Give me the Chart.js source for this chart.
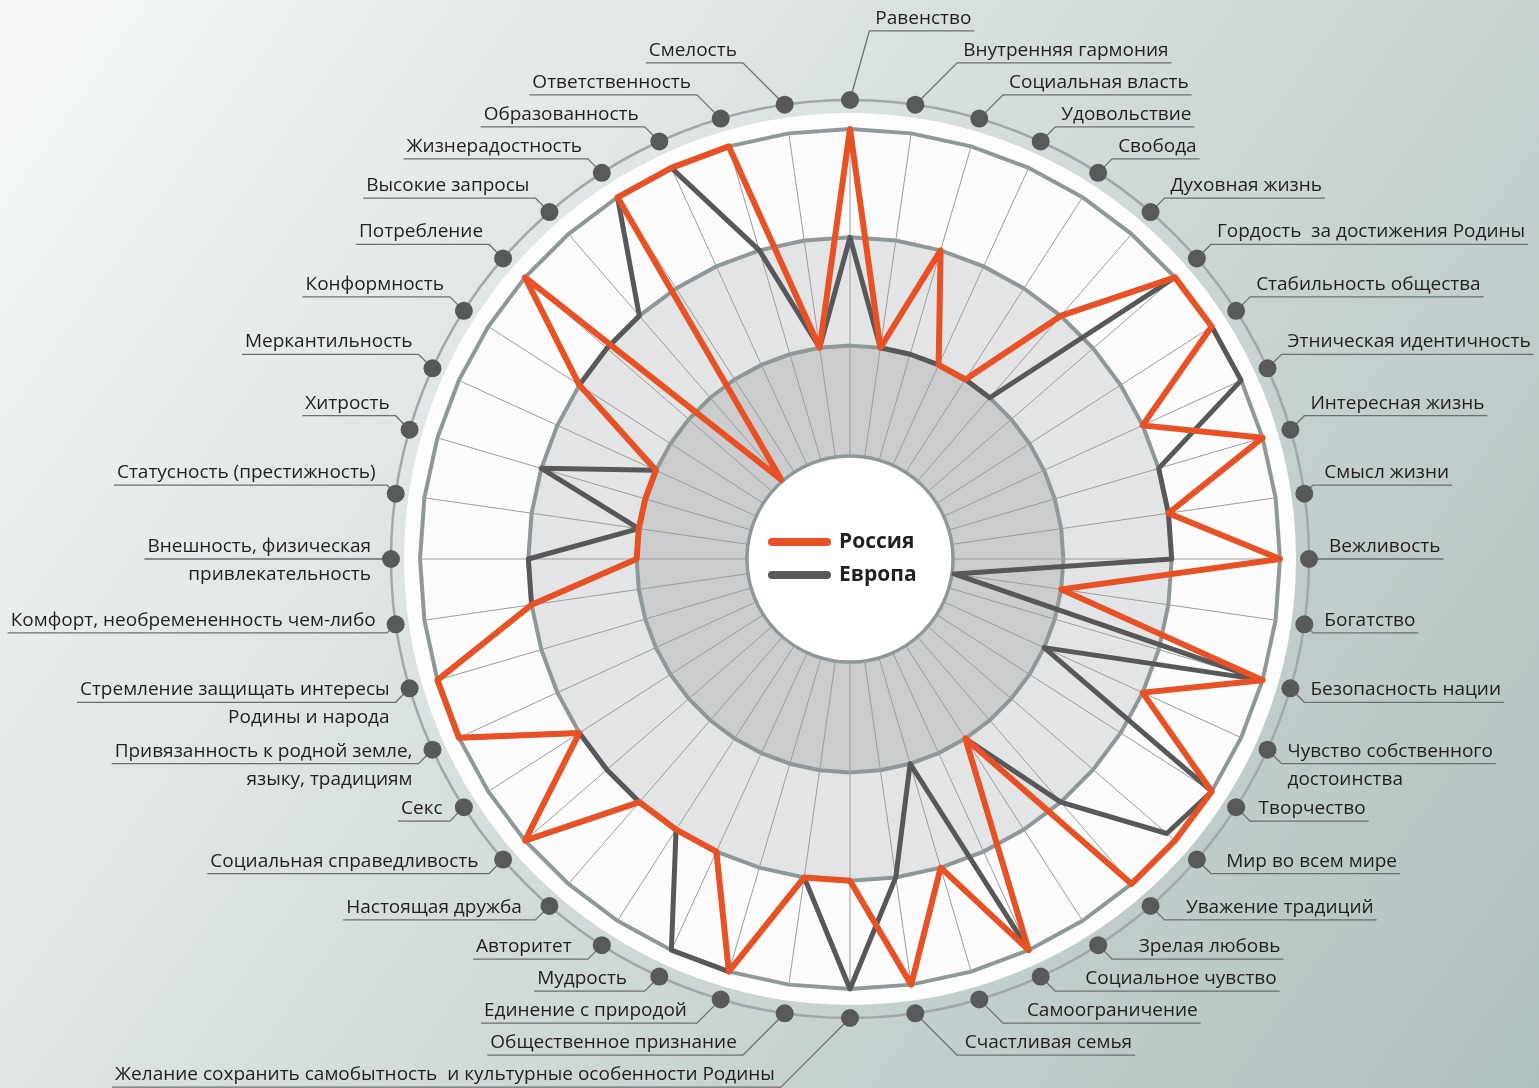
<!DOCTYPE html>
<html><head><meta charset="utf-8">
<script src="https://cdn.jsdelivr.net/npm/chart.js@4/dist/chart.umd.min.js"></script>
<style>html,body{margin:0;padding:0;overflow:hidden;background:#fff}canvas{display:block}</style>
</head><body>
<canvas id="c" width="1539" height="1088"></canvas>
<script>
// ---------- DATA ----------
const categories = [
  "Равенство", "Внутренняя гармония", "Социальная власть", "Удовольствие", "Свобода",
  "Духовная жизнь", "Гордость  за достижения Родины", "Стабильность общества",
  "Этническая идентичность", "Интересная жизнь", "Смысл жизни", "Вежливость", "Богатство",
  "Безопасность нации", ["Чувство собственного", "достоинства"], "Творчество",
  "Мир во всем мире", "Уважение традиций", "Зрелая любовь", "Социальное чувство",
  "Самоограничение", "Счастливая семья",
  "Желание сохранить самобытность  и культурные особенности Родины",
  "Общественное признание", "Единение с природой", "Мудрость", "Авторитет",
  "Настоящая дружба", "Социальная справедливость", "Секс",
  ["Привязанность к родной земле,", "языку, традициям"],
  ["Стремление защищать интересы", "Родины и народа"],
  "Комфорт, необремененность чем-либо",
  ["Внешность, физическая", "привлекательность"],
  "Статусность (престижность)", "Хитрость", "Меркантильность", "Конформность",
  "Потребление", "Высокие запросы", "Жизнерадостность", "Образованность",
  "Ответственность", "Смелость"
];
const russia = [3,1,2,1,1,2,3,3,2,3,2,3,1,3,2,3,3,3,1,3,2,3,2,2,3,2,2,2,3,2,3,3,2,1,1,1,1,2,3,0,3,3,3,1];
const europe = [2,1,1,1,1,1,3,3,3,2,2,2,0,3,1,3,2.9,2,1,3,1,2,3,2,3,3,2,2,2,2,3,3,2,2,1,2,1,2,2,2,3,3,2,1];
const seriesNames = ["Россия", "Европа"];
const ringTicks = [0, 1, 2, 3];

// ---------- STYLE ----------
const W = 1539, H = 1088;
const FONT = '"Open Sans", "Noto Sans", sans-serif';
const C_RU = '#e85124', C_EU = '#58585a', C_GRID = '#8e9898', C_TEXT = '#231f20';

function drawLabels(ctx, s) {
  const n = categories.length, q = n / 4, h = n / 2;
  const rDot = s.drawingArea + 29;
  const info = [];
  for (let i = 0; i < n; i++) {
    const p = s.getPointPosition(i, rDot);
    const th = i * 2 * Math.PI / n;
    const c = Math.cos(th);
    let side = Math.sin(th) > 1e-6 ? 1 : -1;
    if (i === 0) side = 1;
    const dy = Math.max(-14, Math.min(14, -c * 60));
    info.push({ x: p.x, y: p.y, c, side, ul: p.y + dy });
  }
  const GAP = 32;
  for (let i = q - 1; i >= 0; i--) info[i].ul = Math.min(info[i].ul, info[i + 1].ul - GAP);
  for (let i = q + 1; i < h; i++) info[i].ul = Math.max(info[i].ul, info[i - 1].ul + GAP);
  for (let i = 3 * q + 1; i < n; i++) info[i].ul = Math.min(info[i].ul, info[i - 1].ul - GAP);
  for (let i = 3 * q - 1; i >= h; i--) info[i].ul = Math.max(info[i].ul, info[i + 1].ul + GAP);

  ctx.font = '19px ' + FONT;
  ctx.textBaseline = 'alphabetic';
  info.forEach((o, i) => {
    const ady = Math.abs(o.ul - o.y);
    const k = i === 0 ? 0.28 : 1;
    const ex = o.x + o.side * k * ady;
    const f = o.side > 0 ? 60 : 30;
    const gap = Math.max(6, 6 + Math.max(0, -o.c - 0.5) * f - (ady - 14));
    const tx = ex + o.side * gap;
    const lines = Array.isArray(categories[i]) ? categories[i] : [categories[i]];
    const tw = Math.max(...lines.map(t => ctx.measureText(t).width));
    ctx.strokeStyle = '#6d6e70'; ctx.lineWidth = 1.3;
    ctx.beginPath();
    ctx.moveTo(o.x, o.y); ctx.lineTo(ex, o.ul);
    ctx.lineTo(tx + o.side * (tw + 3), o.ul);
    ctx.stroke();
    ctx.fillStyle = C_TEXT;
    ctx.textAlign = o.side > 0 ? 'left' : 'right';
    ctx.fillText(lines[0], tx, o.ul - 7);
    if (lines[1]) ctx.fillText(lines[1], tx, o.ul + 21);
  });
  info.forEach(o => {
    ctx.beginPath(); ctx.arc(o.x, o.y, 9, 0, 2 * Math.PI);
    ctx.fillStyle = '#58595b'; ctx.fill();
  });
}

const decor = {
  id: 'decor',
  beforeDraw(chart) {
    const ctx = chart.ctx, s = chart.scales.r;
    const cx = s.xCenter, cy = s.yCenter, R = s.drawingArea;
    ctx.save();
    const g = ctx.createLinearGradient(0, 0, W, H);
    g.addColorStop(0, '#f6f8f8'); g.addColorStop(1, '#afbfbd');
    ctx.fillStyle = g; ctx.fillRect(0, 0, W, H);
    ctx.beginPath(); ctx.arc(cx, cy, R + 16, 0, 2 * Math.PI);
    ctx.fillStyle = '#fdfdfd'; ctx.fill();
    ctx.beginPath(); ctx.arc(cx, cy, R + 29, 0, 2 * Math.PI);
    ctx.strokeStyle = '#a2a8a9'; ctx.lineWidth = 2.5; ctx.stroke();
    const bandColors = { 3: '#fbfbfb', 2: '#e3e4e6', 1: '#cbccce' };
    [3, 2, 1].forEach(v => {
      const d = s.getDistanceFromCenterForValue(v);
      ctx.beginPath();
      for (let i = 0; i < categories.length; i++) {
        const p = s.getPointPosition(i, d);
        if (i) ctx.lineTo(p.x, p.y); else ctx.moveTo(p.x, p.y);
      }
      ctx.closePath(); ctx.fillStyle = bandColors[v]; ctx.fill();
    });
    drawLabels(ctx, s);
    ctx.restore();
  },
  beforeDatasetsDraw(chart) {
    const ctx = chart.ctx, s = chart.scales.r;
    const r0 = s.getDistanceFromCenterForValue(0) - 2;
    ctx.save();
    ctx.beginPath(); ctx.arc(s.xCenter, s.yCenter, r0, 0, 2 * Math.PI);
    ctx.fillStyle = '#ffffff'; ctx.fill();
    ctx.strokeStyle = C_GRID; ctx.lineWidth = 3.5; ctx.stroke();
    ctx.restore();
  },
  afterDraw(chart) {
    const ctx = chart.ctx, s = chart.scales.r;
    const cx = s.xCenter, cy = s.yCenter;
    ctx.save();
    [C_RU, C_EU].forEach((col, j) => {
      const y = cy - 17 + j * 33;
      ctx.beginPath(); ctx.moveTo(cx - 78, y); ctx.lineTo(cx - 23, y);
      ctx.strokeStyle = col; ctx.lineWidth = 8; ctx.lineCap = 'round'; ctx.stroke();
      ctx.font = 'bold 21px ' + FONT; ctx.fillStyle = C_TEXT;
      ctx.textAlign = 'left'; ctx.textBaseline = 'middle';
      ctx.fillText(seriesNames[j], cx - 11, y);
    });
    ctx.restore();
  }
};

new Chart(document.getElementById('c'), {
  type: 'radar',
  data: {
    labels: categories,
    datasets: [
      { label: seriesNames[0], data: russia, borderColor: C_RU, borderWidth: 6,
        backgroundColor: 'transparent', fill: false, pointRadius: 0, borderJoinStyle: 'round' },
      { label: seriesNames[1], data: europe, borderColor: C_EU, borderWidth: 5,
        backgroundColor: 'transparent', fill: false, pointRadius: 0, borderJoinStyle: 'round' }
    ]
  },
  options: {
    responsive: false, animation: false, devicePixelRatio: 1,
    layout: { padding: { left: 420, right: 259, top: 129, bottom: 99 } },
    plugins: { legend: { display: false }, tooltip: { enabled: false } },
    scales: {
      r: {
        min: -0.97, max: 3,
        ticks: { display: false, stepSize: 1 },
        afterBuildTicks: sc => { sc.ticks = ringTicks.map(v => ({ value: v })); },
        pointLabels: { display: false },
        grid: { circular: false, lineWidth: 4,
          color: c => (c.tick && c.tick.value === 0) ? 'rgba(0,0,0,0)' : C_GRID },
        angleLines: { color: '#9c9c9c', lineWidth: 1 }
      }
    }
  },
  plugins: [decor]
});
</script>
</body></html>
